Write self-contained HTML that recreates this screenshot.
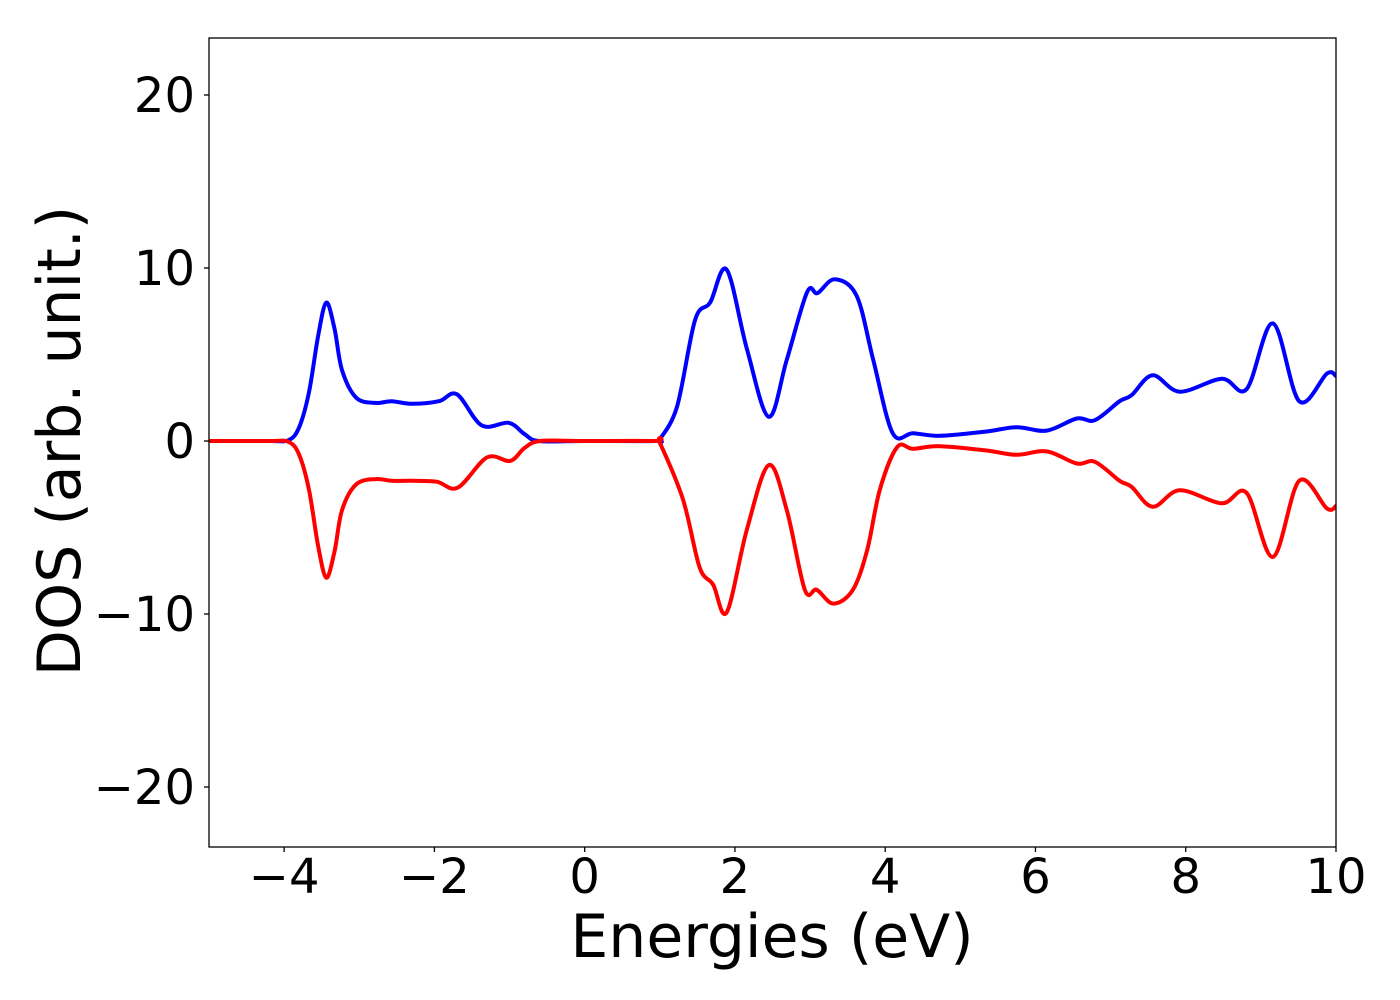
<!DOCTYPE html>
<html><head><meta charset="utf-8"><style>
html,body{margin:0;padding:0;background:#fff;}
svg{display:block;font-family:"DejaVu Sans","Liberation Sans",sans-serif;}
</style></head><body>
<svg id="chart" width="1400" height="1000" viewBox="0 0 1400 1000" xmlns="http://www.w3.org/2000/svg">
<rect x="0" y="0" width="1400" height="1000" fill="#fff"/>
<g id="plot"></g>
<g id="axes"></g>
<text x="772" y="957" font-size="60" text-anchor="middle" fill="#000">Energies (eV)</text>
<text x="80" y="441" font-size="60" text-anchor="middle" fill="#000" transform="rotate(-90 80 441)">DOS (arb. unit.)</text>
</svg>
<script>
const upE = [-5,-4.2,-3.94,-3.8,-3.67,-3.55,-3.44,-3.33,-3.23,-3.04,-2.78,-2.57,-2.30,-1.94,-1.70,-1.37,-1.01,-0.8,-0.61,0,0.95,1.0,1.23,1.47,1.67,1.89,2.16,2.45,2.69,2.96,3.10,3.33,3.62,3.84,4.10,4.37,4.73,5.35,5.75,6.15,6.55,6.79,7.12,7.28,7.56,7.92,8.48,8.81,9.16,9.51,9.88,10];
const upDos = [0,0,0.05,0.8,2.8,6.0,8.0,6.5,4.1,2.5,2.2,2.3,2.15,2.3,2.7,0.9,1.05,0.4,0,0,0,0.1,2.0,7.0,8.0,9.9,5.3,1.4,4.7,8.6,8.55,9.35,8.4,4.7,0.45,0.45,0.3,0.55,0.8,0.6,1.3,1.2,2.3,2.65,3.8,2.85,3.6,3.0,6.8,2.3,3.9,3.75];
const dnE = [-5,-4.2,-3.94,-3.8,-3.67,-3.55,-3.44,-3.33,-3.23,-3.04,-2.78,-2.57,-2.29,-1.97,-1.69,-1.30,-0.99,-0.8,-0.59,0,0.95,1.0,1.31,1.53,1.71,1.89,2.16,2.45,2.69,2.93,3.09,3.31,3.57,3.76,3.93,4.16,4.37,4.73,5.35,5.75,6.15,6.55,6.79,7.12,7.28,7.56,7.92,8.48,8.81,9.16,9.51,9.88,10];
const dnDos = [0,0,-0.05,-0.8,-2.8,-6.0,-7.9,-6.4,-4.0,-2.5,-2.2,-2.3,-2.3,-2.35,-2.7,-0.95,-1.15,-0.4,0,0,0,-0.1,-3.4,-7.3,-8.3,-9.9,-5.1,-1.4,-4.0,-8.6,-8.6,-9.4,-8.6,-6.3,-2.8,-0.35,-0.45,-0.3,-0.55,-0.8,-0.6,-1.3,-1.2,-2.3,-2.65,-3.8,-2.85,-3.6,-3.0,-6.7,-2.3,-3.9,-3.75];
const xTicks = [-4,-2,0,2,4,6,8,10];
const yTicks = [-20,-10,0,10,20];
const xTickLabels = ["\u22124","\u22122","0","2","4","6","8","10"];
const yTickLabels = ["\u221220","\u221210","0","10","20"];

const L=209,R=1336,T=38,B=847;
const xMin=-5,xMax=10,yMin=-23.5,yMax=23.3;
function sx(v){return L+(v-xMin)/(xMax-xMin)*(R-L);}
function sy(v){return 441-v*17.3;}
const NS="http://www.w3.org/2000/svg";
function el(tag,attrs,parent){const e=document.createElementNS(NS,tag);for(const k in attrs)e.setAttribute(k,attrs[k]);parent.appendChild(e);return e;}
function pathFor(xs,ys){
  const p=xs.map((x,i)=>[sx(x),sy(ys[i])]);
  let d="M"+p[0][0].toFixed(1)+","+p[0][1].toFixed(1);
  for(let i=0;i<p.length-1;i++){
    const p0=p[Math.max(0,i-1)],p1=p[i],p2=p[i+1],p3=p[Math.min(p.length-1,i+2)];
    const c1=[p1[0]+(p2[0]-p0[0])/6,p1[1]+(p2[1]-p0[1])/6];
    const c2=[p2[0]-(p3[0]-p1[0])/6,p2[1]-(p3[1]-p1[1])/6];
    d+=" C"+c1[0].toFixed(1)+","+c1[1].toFixed(1)+" "+c2[0].toFixed(1)+","+c2[1].toFixed(1)+" "+p2[0].toFixed(1)+","+p2[1].toFixed(1);
  }
  return d;
}
const plot=document.getElementById('plot');
const defs=el('defs',{},plot);
const cp=el('clipPath',{id:'clip'},defs);
el('rect',{x:L,y:T,width:R-L,height:B-T},cp);
const g=el('g',{'clip-path':'url(#clip)'},plot);
const up=el('path',{d:pathFor(upE,upDos),fill:'none',stroke:'#0000ff','stroke-width':4,'stroke-linejoin':'round'},g);


const dn=el('path',{d:pathFor(dnE,dnDos),fill:'none',stroke:'#ff0000','stroke-width':4,'stroke-linejoin':'round'},g);



const axes=document.getElementById('axes');
const frame=el('rect',{x:L,y:T,width:R-L,height:B-T,fill:'none',stroke:'#000','stroke-width':1.3},axes);


xTicks.forEach((v,i)=>{
  const x=sx(v);
  el('line',{x1:x,y1:B,x2:x,y2:B+5,stroke:'#000','stroke-width':1.3},axes);
  const t=el('text',{x:x,y:893,'font-size':48,'text-anchor':'middle',fill:'#000'},axes);
  t.textContent=xTickLabels[i];
  
  
});
yTicks.forEach((v,i)=>{
  const y=sy(v);
  el('line',{x1:L-5,y1:y,x2:L,y2:y,stroke:'#000','stroke-width':1.3},axes);
  const t=el('text',{x:195,y:y+17,'font-size':48,'text-anchor':'end',fill:'#000'},axes);
  t.textContent=yTickLabels[i];
  
  
});
</script>
</body></html>
